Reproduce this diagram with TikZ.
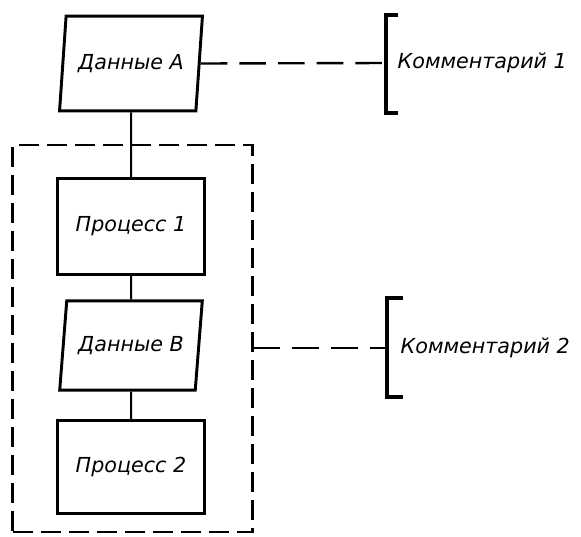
\documentclass[tikz,border=0pt]{standalone}
\usepackage{fontspec}
\newfontfamily\gostfont{DejaVu Sans}[ItalicFont={DejaVu Sans Oblique}]
\usetikzlibrary{shapes.geometric}

\begin{document}
\begin{tikzpicture}[
x=0.75pt, y=-0.75pt,
every node/.style={font=\gostfont\itshape\fontsize{15.5}{18}\selectfont, align=center},
process/.style={rectangle, draw, line width=2.2pt, minimum width=110pt, minimum height=72pt},
data/.style={trapezium, trapezium left angle=78, trapezium right angle=102, trapezium stretches=true, draw, line width=2.2pt, minimum width=108pt, minimum height=71pt},
group/.style={rectangle, draw, line width=1.8pt, dash pattern=on 15pt off 6pt, minimum width=180pt, minimum height=290pt},
link/.style={line width=1.5pt},
annot/.style={line width=1.8pt, dash pattern=on 20pt off 9pt},
bracket/.style={line width=2.6pt}
]
\useasboundingbox (0,0) rectangle (581,536);

\node[group] (frame) at (132.5,338.5) {};

\node[data] (dataA) at (131,63.5) {Данные А};
\node[process] (proc1) at (131,226.5) {Процесс 1};
\node[data, minimum height=67pt, trapezium left angle=77, trapezium right angle=103] (dataB) at (131,345.5) {Данные В};
\node[process, minimum height=70pt] (proc2) at (131,467) {Процесс 2};

\draw[link] (dataA) -- (proc1);
\draw[link] (proc1) -- (dataB);
\draw[link] (dataB) -- (proc2);

% comments
\coordinate (br1) at (386,63);
\coordinate (br2) at (387,348);
\node[anchor=west] (note1) at (393,63) {Комментарий 1};
\node[anchor=west] (note2) at (396,348) {Комментарий 2};
\draw[bracket] (398,15) -- (386,15) -- (386,113) -- (398,113);
\draw[bracket] (403,298) -- (387,298) -- (387,397) -- (403,397);

\draw[annot] (dataA.east) -- (br1);
\draw[annot] (frame.east |- br2) -- (br2);

\end{tikzpicture}
\end{document}
